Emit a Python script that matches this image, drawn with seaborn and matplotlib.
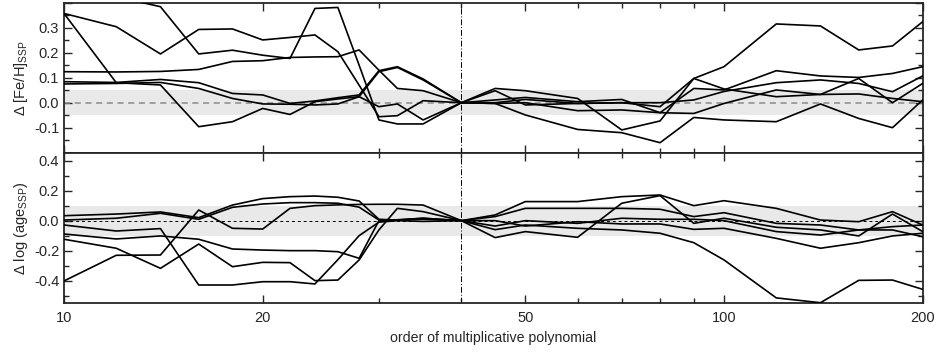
import numpy as np
import pandas as pd
import matplotlib
matplotlib.use("Agg")
import matplotlib.pyplot as plt
from matplotlib.ticker import FixedLocator, NullFormatter, MultipleLocator, FuncFormatter
import seaborn as sns

sns.set_style("ticks")
plt.rcParams['font.family'] = ['Liberation Sans Narrow', 'Liberation Sans', 'DejaVu Sans']
plt.rcParams['mathtext.default'] = 'regular'
plt.rcParams['axes.unicode_minus'] = False

order = [10, 12, 14, 16, 18, 20, 22, 24, 26, 28, 30, 32, 35, 40,
         45, 50, 60, 70, 80, 90, 100, 120, 140, 160, 180, 200]

# Delta [Fe/H]_SSP
feh_1 = [0.45, 0.424, 0.384, 0.195, 0.21, 0.19, 0.177, 0.377, 0.381, 0.15, -0.069, -0.085, -0.085, 0.0,
         0.057, 0.048, 0.017, -0.109, -0.073, 0.097, 0.144, 0.315, 0.307, 0.211, 0.227, 0.324]
feh_2 = [0.357, 0.304, 0.195, 0.293, 0.295, 0.251, 0.261, 0.271, 0.204, 0.07, -0.056, -0.052, 0.008, 0.0,
         0.011, 0.021, 0.004, 0.013, -0.04, 0.057, 0.051, 0.128, 0.107, 0.101, 0.117, 0.144]
feh_3 = [0.124, 0.123, 0.125, 0.133, 0.165, 0.168, 0.181, 0.183, 0.184, 0.211, 0.13, 0.057, 0.048, 0.0,
         0.048, -0.009, -0.003, 0.0, -0.016, 0.097, 0.055, 0.024, 0.033, 0.097, 0.0, 0.077]
feh_4 = [0.084, 0.081, 0.093, 0.08, 0.037, 0.031, -0.003, 0.007, 0.02, 0.031, 0.128, 0.144, 0.095, 0.0,
         0.0, 0.013, -0.003, 0.0, 0.0, 0.011, 0.045, 0.08, 0.091, 0.077, 0.044, 0.107]
feh_5 = [0.075, 0.077, 0.081, 0.057, 0.017, -0.005, -0.006, -0.009, -0.005, 0.024, 0.124, 0.141, 0.091, 0.0,
         -0.003, 0.0, -0.032, -0.029, -0.04, -0.043, -0.003, 0.051, 0.033, 0.035, 0.017, 0.004]
feh_6 = [0.357, 0.08, 0.071, -0.096, -0.076, -0.023, -0.047, 0.004, 0.015, 0.024, -0.016, -0.005, -0.069, 0.0,
         -0.003, -0.049, -0.107, -0.12, -0.16, -0.059, -0.069, -0.076, -0.005, -0.063, -0.1, 0.011]

# Delta log(age_SSP)
age_1 = [0.033, 0.044, 0.058, 0.02, 0.104, 0.147, 0.16, 0.164, 0.156, 0.131, 0.009, 0.004, 0.016, 0.0,
         0.038, 0.127, 0.127, 0.16, 0.171, 0.1, 0.133, 0.082, 0.004, -0.007, 0.06, -0.029]
age_2 = [0.004, 0.016, 0.049, 0.009, 0.089, 0.111, 0.12, 0.12, 0.116, 0.09, 0.004, 0.002, 0.01, 0.0,
         0.027, 0.082, 0.082, 0.082, 0.076, 0.027, 0.053, -0.018, -0.029, -0.062, -0.04, -0.029]
age_3 = [-0.029, -0.069, -0.053, -0.429, -0.429, -0.407, -0.407, -0.422, -0.26, -0.1, -0.01, 0.0, -0.005, 0.0,
         -0.036, 0.0, -0.018, 0.016, 0.009, 0.009, 0.0, -0.073, -0.096, -0.062, -0.062, -0.107]
age_4 = [-0.089, -0.122, -0.102, -0.124, -0.189, -0.196, -0.2, -0.2, -0.207, -0.251, 0.0, 0.006, 0.016, 0.0,
         0.0, -0.036, -0.007, -0.022, -0.022, -0.058, -0.051, -0.118, -0.184, -0.147, -0.102, -0.084]
age_5 = [-0.124, -0.184, -0.318, -0.156, -0.307, -0.278, -0.28, -0.4, -0.396, -0.262, -0.062, 0.082, 0.06, 0.0,
         -0.113, -0.073, -0.111, 0.116, 0.167, -0.018, 0.016, -0.044, -0.062, -0.102, 0.044, -0.073]
age_6 = [-0.402, -0.231, -0.229, 0.071, -0.051, -0.056, 0.082, 0.1, 0.105, 0.108, 0.109, 0.109, 0.104, 0.0,
         -0.06, -0.029, -0.051, -0.062, -0.084, -0.147, -0.262, -0.515, -0.547, -0.398, -0.396, -0.458]

feh_series = [feh_1, feh_2, feh_3, feh_4, feh_5, feh_6]
age_series = [age_1, age_2, age_3, age_4, age_5, age_6]

xmajor = [10, 20, 50, 100, 200]
xminor = [30, 40, 60, 70, 80, 90]
ref_order = 40


def long_df(series):
    rows = []
    for i, s in enumerate(series):
        for o, v in zip(order, s):
            rows.append({"order": o, "val": v, "run": i})
    return pd.DataFrame(rows)


W, H = 937, 356
fig = plt.figure(figsize=(W / 100, H / 100), dpi=100)
left, right = 64 / W, 922.7 / W
ax1 = fig.add_axes([left, 1 - 152.7 / H, right - left, (152.7 - 2.7) / H])
ax2 = fig.add_axes([left, 1 - 302.7 / H, right - left, (302.7 - 152.7) / H])

specs = [
    (ax1, feh_series, (-0.2, 0.4), 0.05, dict(color='#8a8a8a', lw=1.1, dashes=(4, 3)),
     r'$\Delta$ [Fe/H]$_{SSP}$', 0.1, 0.05),
    (ax2, age_series, (-0.547, 0.453), 0.1, dict(color='black', lw=0.7, dashes=(3, 3)),
     r'$\Delta$ log (age$_{SSP}$)', 0.2, 0.1),
]

for ax, series, ylim, band, zstyle, ylabel, ymaj, ymin in specs:
    ax.axhspan(-band, band, color='#e9e9e9', lw=0, zorder=0)
    zs = dict(zstyle)
    dashes = zs.pop('dashes')
    ln = ax.axhline(0, zorder=1, **zs)
    ln.set_dashes(dashes)
    ax.axvline(ref_order, color='black', lw=0.7, ls=(0, (6, 2, 1, 2)), zorder=1)
    df = long_df(series)
    sns.lineplot(data=df, x="order", y="val", units="run", estimator=None,
                 color='black', lw=1.2, ax=ax, legend=False, zorder=3)
    ax.set_xscale('log')
    ax.set_xlim(10, 200)
    ax.set_ylim(*ylim)
    ax.xaxis.set_major_locator(FixedLocator(xmajor))
    ax.xaxis.set_minor_locator(FixedLocator(xminor))
    ax.xaxis.set_minor_formatter(NullFormatter())
    ax.yaxis.set_major_locator(MultipleLocator(ymaj))
    ax.yaxis.set_minor_locator(MultipleLocator(ymin))
    ax.tick_params(which='both', direction='in', top=True, right=True, width=1.0, labelsize=10.5)
    ax.tick_params(which='major', length=5.5)
    ax.tick_params(which='minor', length=3.5)
    ax.tick_params(axis='x', pad=6)
    for sp in ax.spines.values():
        sp.set_linewidth(1.3)
    ax.set_ylabel(ylabel, fontsize=10.5, labelpad=4)
    ax.set_xlabel('')

ax1.yaxis.set_major_formatter(FuncFormatter(
    lambda v, p: '' if (v > 0.35 or v < -0.15) else f'{v:.1f}'))
ax1.xaxis.set_major_formatter(NullFormatter())
ax2.yaxis.set_major_formatter(FuncFormatter(lambda v, p: f'{v:.1f}'))
ax2.xaxis.set_major_formatter(FuncFormatter(lambda v, p: f'{int(round(v))}'))
ax2.set_xlabel('order of multiplicative polynomial', fontsize=10.2, labelpad=4)

ax1.yaxis.set_label_coords(-0.04, 0.5)
ax2.yaxis.set_label_coords(-0.04, 0.5)

fig.savefig('out.png', dpi=100)
